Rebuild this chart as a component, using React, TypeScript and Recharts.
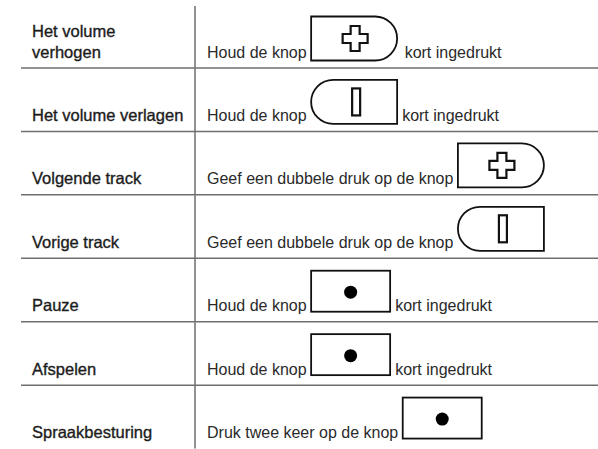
import { BarChart, Bar, XAxis, YAxis } from 'recharts'

// table rows: what the button does, how to press it, which button, text after it
const functionLabels = [
  'Het volume\nverhogen',
  'Het volume verlagen',
  'Volgende track',
  'Vorige track',
  'Pauze',
  'Afspelen',
  'Spraakbesturing',
]
const actionTexts = [
  'Houd de knop',
  'Houd de knop',
  'Geef een dubbele druk op de knop',
  'Geef een dubbele druk op de knop',
  'Houd de knop',
  'Houd de knop',
  'Druk twee keer op de knop',
]
const buttonIcons = ['plus', 'bar', 'plus', 'bar', 'dot', 'dot', 'dot']
const afterTexts = ['kort ingedrukt', 'kort ingedrukt', '', '', 'kort ingedrukt', 'kort ingedrukt', '']

const W = 598
const H = 449
const FONT = '"Liberation Sans", Arial, Helvetica, sans-serif'
const DESC_SIZE = 16
const LABEL_SIZE = 16.5
const LABEL_X = 32
const DESC_X = 207
const DIVIDER_X = 195
const RULE_X = 21
const RULE = '#6e6e6e'

const rows = functionLabels.map((label, i) => ({
  label,
  action: actionTexts[i],
  icon: buttonIcons[i],
  after: afterTexts[i],
  span: 1,
}))

let ctx: CanvasRenderingContext2D | null = null
function textWidth(text: string, size: number) {
  if (!ctx) ctx = document.createElement('canvas').getContext('2d')
  if (!ctx) return text.length * size * 0.5
  ctx.font = `${size}px ${FONT}`
  return ctx.measureText(text).width
}

function Button({ icon, x, baseline }: { icon: string; x: number; baseline: number }) {
  const stroke = { fill: 'none', stroke: '#111', strokeWidth: 1.8 }
  if (icon === 'dot') {
    const w = 79
    const h = 41
    const top = baseline + 0.5 - h
    return (
      <g>
        <rect x={x} y={top} width={w} height={h} {...stroke} />
        <circle cx={x + w / 2} cy={top + h / 2 + 1} r={6.5} fill="#000" />
      </g>
    )
  }
  const w = 86
  const h = 44
  const r = h / 2
  const top = baseline + 3 - h
  const cx = x + w / 2
  const cy = top + h / 2
  if (icon === 'plus') {
    const o = 12.5
    const a = 4.5
    const pts = [
      [-a, -o], [a, -o], [a, -a], [o, -a], [o, a], [a, a],
      [a, o], [-a, o], [-a, a], [-o, a], [-o, -a], [-a, -a],
    ]
      .map(([px, py]) => `${cx + 1 + px},${cy + py}`)
      .join(' ')
    return (
      <g>
        <path
          d={`M${x},${top} H${x + w - r} A${r},${r} 0 0 1 ${x + w - r},${top + h} H${x} Z`}
          {...stroke}
        />
        <polygon points={pts} {...stroke} strokeWidth={2.2} strokeLinejoin="miter" />
      </g>
    )
  }
  return (
    <g>
      <path
        d={`M${x + w},${top} H${x + r} A${r},${r} 0 0 0 ${x + r},${top + h} H${x + w} Z`}
        {...stroke}
      />
      <rect x={cx + 2 - 4} y={cy - 13.5} width={8} height={27} {...stroke} strokeWidth={2.2} />
    </g>
  )
}

function RowShape(props: any) {
  const { x, y, width, height, payload, index } = props
  const bottom = y + height
  const baseline = bottom - 10.5
  const lines = String(payload.label).split('\n')
  const actionW = textWidth(payload.action, DESC_SIZE)
  const btnX = DESC_X + actionW + 4.5
  const btnW = payload.icon === 'dot' ? 79 : 86
  const afterX = btnX + btnW + (payload.icon === 'plus' ? 7.5 : 5)
  const isLast = index === rows.length - 1

  return (
    <g>
      <line x1={DIVIDER_X} x2={DIVIDER_X} y1={index === 0 ? y + 1 : y} y2={bottom} stroke={RULE} strokeWidth={1.5} />
      {!isLast && (
        <line x1={RULE_X} x2={x + width} y1={bottom} y2={bottom} stroke={RULE} strokeWidth={1.5} />
      )}
      {lines.map((line, li) => (
        <text
          key={li}
          x={LABEL_X}
          y={baseline - (lines.length - 1 - li) * 20.7}
          fontFamily={FONT}
          fontSize={LABEL_SIZE}
          fill="#1c1c1c"
          stroke="#1c1c1c"
          strokeWidth={0.35}
        >
          {line}
        </text>
      ))}
      <text x={DESC_X} y={baseline} fontFamily={FONT} fontSize={DESC_SIZE} fill="#2a2a2a">
        {payload.action}
      </text>
      <Button icon={payload.icon} x={btnX} baseline={baseline} />
      {payload.after && (
        <text x={afterX} y={baseline} fontFamily={FONT} fontSize={DESC_SIZE} fill="#2a2a2a">
          {payload.after}
        </text>
      )}
    </g>
  )
}

export default function App() {
  return (
    <div style={{ position: 'absolute', left: 0, top: 0, width: W, height: H, background: '#fff' }}>
      <BarChart
        width={W}
        height={H}
        data={rows}
        layout="vertical"
        margin={{ top: 5, right: 0, bottom: 0, left: 0 }}
        barCategoryGap={0}
        barGap={0}
      >
        <XAxis type="number" domain={[0, 1]} hide />
        <YAxis type="category" dataKey="label" hide />
        <Bar dataKey="span" isAnimationActive={false} shape={(p: any) => <RowShape {...p} />} />
      </BarChart>
    </div>
  )
}
